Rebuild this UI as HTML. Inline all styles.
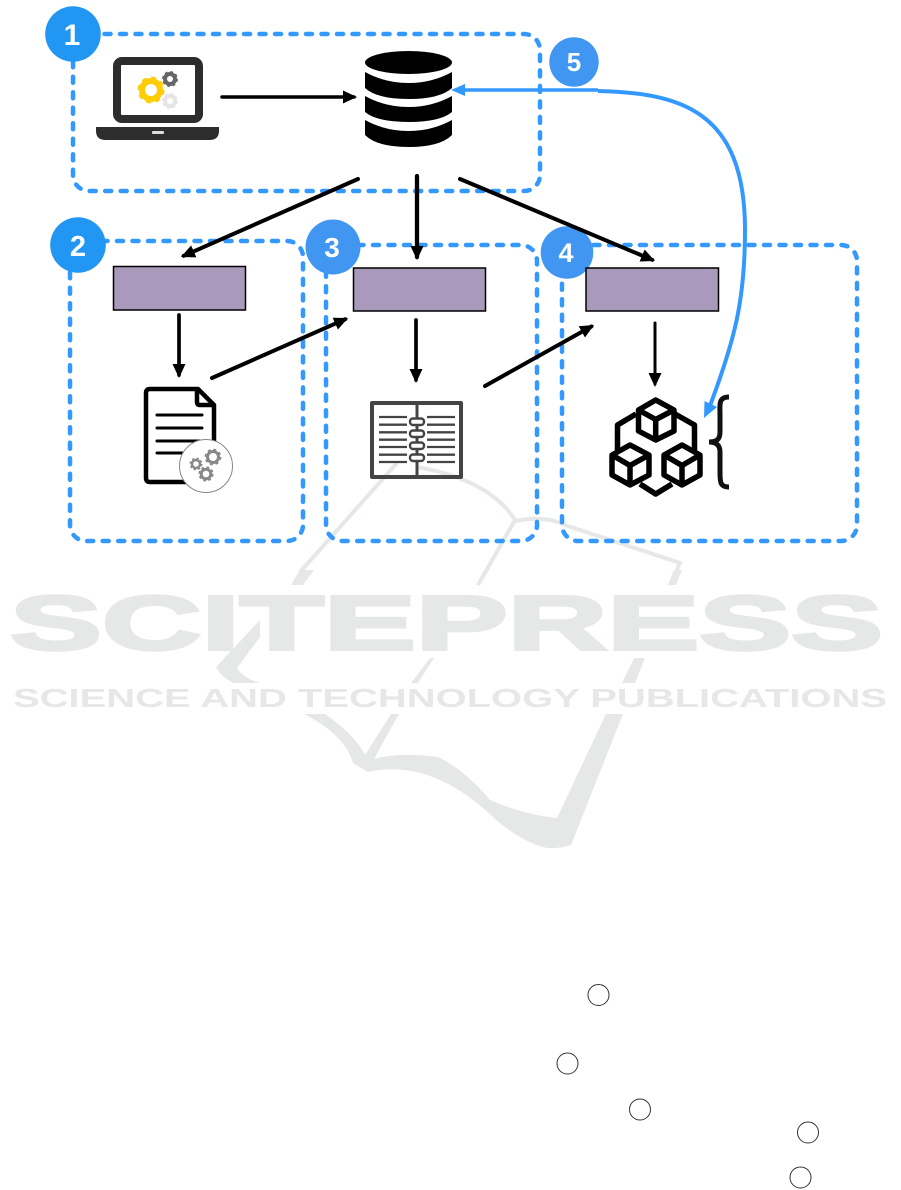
<!DOCTYPE html>
<html><head><meta charset="utf-8"><style>
html,body{margin:0;padding:0;background:#fff}
svg{display:block}
text{font-family:"Liberation Sans",sans-serif}
</style></head><body>
<svg width="901" height="1190" viewBox="0 0 901 1190" xmlns="http://www.w3.org/2000/svg">
<defs>
<marker id="a" markerUnits="userSpaceOnUse" markerWidth="16" markerHeight="16" refX="11" refY="7" orient="auto"><path d="M0 0.5L14 7L0 13.5z" fill="#000"/></marker>
</defs>
<!-- watermark -->
<g fill="#e6e7e7" stroke="#e6e7e7">
<text x="10" y="649.5" font-size="77" font-weight="700" stroke-width="3" textLength="873" lengthAdjust="spacingAndGlyphs">SCITEPRESS</text>
<text x="13" y="707" font-size="26" font-weight="700" stroke-width="0" textLength="874" lengthAdjust="spacingAndGlyphs">SCIENCE AND TECHNOLOGY PUBLICATIONS</text>
</g>
<g fill="#e6e7e7">
<path d="M304 714L325 714Q356 736 365 755L391 714L399 714L374 759Q400 752 438 757Q465 770 490 800Q525 815 557 818L606 714L623 714L571 845Q555 850 542 847Q520 840 496 820Q450 775 404 770Q385 768 368 772L353 763Q345 735 304 714z"/>
<path d="M260 620L216 667Q222 678 234 683L260 683Q243 678 237 668L260 637z"/>
<path d="M430 658L434 658L418 683L411 683z"/><path d="M634 658L645 658L635 683L622 683z"/><path d="M440 637L447 637L441 647z"/>
<path d="M291 585L303 585L314 570L300 570z"/><path d="M476 585L479 585L489 570L485 570z"/><path d="M668 585L676 585L682 570L674 570z"/>
</g>
<g fill="none" stroke="#e6e7e7" stroke-width="4">
<path d="M397 463L300 572"/>
<path d="M417 467Q490 480 515 520L478 585"/>
<path d="M515 521Q545 515 565 525L680 563L670 585"/>
</g>
<!-- dashed boxes -->
<g fill="none" stroke="#3399ff" stroke-width="4.5" stroke-linecap="round" stroke-dasharray="6 9.5">
<rect x="73" y="34" width="467" height="157" rx="16"/>
<rect x="70" y="241" width="233" height="300" rx="16"/>
<rect x="326" y="245" width="211" height="296" rx="16"/>
<rect x="562" y="245" width="295" height="296" rx="16"/>
</g>
<!-- badges -->
<circle cx="73" cy="34" r="27.8" fill="#2196f3"/>
<circle cx="78" cy="245" r="27.8" fill="#2196f3"/>
<circle cx="333" cy="247" r="27.5" fill="#4096f0"/>
<circle cx="567" cy="252.5" r="26.3" fill="#4096f0"/>
<circle cx="574" cy="62" r="24.7" fill="#4096f0"/>
<g fill="#fff" font-weight="700" text-anchor="middle">
<text x="72" y="45" font-size="30">1</text>
<text x="78" y="256" font-size="29">2</text>
<text x="332" y="257" font-size="28">3</text>
<text x="566" y="262" font-size="27">4</text>
<text x="574" y="71" font-size="26">5</text>
</g>
<!-- purple boxes -->
<g fill="#a99abc" stroke="#000" stroke-width="1.5">
<rect x="113.5" y="266.5" width="132" height="43.5"/>
<rect x="353.5" y="268" width="132" height="43"/>
<rect x="586" y="268" width="132.5" height="43"/>
</g>
<!-- laptop -->
<rect x="117" y="61" width="82" height="58" rx="5" fill="#fff" stroke="#2d2d2d" stroke-width="8"/>
<path d="M96 127H219V131Q219 140 209 140H106Q96 140 96 131z" fill="#2d2d2d"/>
<rect x="152" y="131" width="12" height="3" rx="1" fill="#ddd"/>
<g fill="none">
<circle cx="151" cy="90" r="9" stroke="#ffcc00" stroke-width="6"/>
<circle cx="151" cy="90" r="12" stroke="#ffcc00" stroke-width="3" stroke-dasharray="4.7 4.7"/>
<circle cx="170" cy="79" r="5" stroke="#666" stroke-width="4"/>
<circle cx="170" cy="79" r="7" stroke="#666" stroke-width="2" stroke-dasharray="2.75 2.75"/>
<circle cx="170" cy="101" r="5" stroke="#e5e5e5" stroke-width="4"/>
<circle cx="170" cy="101" r="7" stroke="#e5e5e5" stroke-width="2" stroke-dasharray="2.75 2.75"/>
</g>
<!-- database -->
<g fill="#000">
<ellipse cx="408.5" cy="62.5" rx="43.5" ry="11.5"/>
<path d="M365 72Q385 83 408.5 83Q432 83 452 72V88Q440 99 408.5 99Q377 99 365 88z"/>
<path d="M365 96Q385 107 408.5 107Q432 107 452 96V112Q440 122 408.5 122Q377 122 365 112z"/>
<path d="M365 120Q385 131 408.5 131Q432 131 452 120V135Q440 147 408.5 147Q377 147 365 135z"/>
</g>
<!-- arrows -->
<g stroke="#000" fill="none" stroke-linecap="round">
<path d="M222 97H354" stroke-width="3.5" marker-end="url(#a)"/>
<path d="M358 179L183.7 255.8" stroke-width="4" marker-end="url(#a)"/>
<path d="M417 176V257" stroke-width="4.3" marker-end="url(#a)"/>
<path d="M460 179L652.2 259.8" stroke-width="4" marker-end="url(#a)"/>
<path d="M179 315V375" stroke-width="3.7" marker-end="url(#a)"/>
<path d="M212 378L345.3 319.2" stroke-width="4" marker-end="url(#a)"/>
<path d="M416 320V380" stroke-width="3.7" marker-end="url(#a)"/>
<path d="M485 386L591.4 326.5" stroke-width="4" marker-end="url(#a)"/>
<path d="M655 323V384" stroke-width="3" marker-end="url(#a)"/>
</g>
<!-- document -->
<path d="M198 389H150Q146 389 146 393V478Q146 482 150 482H214V405z" fill="#fff" stroke="#000" stroke-width="4.5" stroke-linejoin="round"/>
<path d="M197 389V402Q197 405 200 405H214" fill="none" stroke="#000" stroke-width="4.5"/>
<g stroke="#000" stroke-width="3" stroke-linecap="round"><path d="M157 415H202M157 428H202M157 441H202M157 453H190"/></g>
<circle cx="206" cy="466" r="26.5" fill="#fff" stroke="#888" stroke-width="1"/>
<g fill="none" stroke="#888">
<circle cx="213" cy="457" r="5.5" stroke-width="3"/><circle cx="213" cy="457" r="7.6" stroke-width="1.6" stroke-dasharray="3 3"/>
<circle cx="206" cy="474" r="4.8" stroke-width="3"/><circle cx="206" cy="474" r="6.8" stroke-width="1.6" stroke-dasharray="2.7 2.7"/>
<circle cx="196" cy="464" r="4" stroke-width="2.5"/><circle cx="196" cy="464" r="5.8" stroke-width="1.4" stroke-dasharray="2.3 2.3"/>
</g>
<!-- book -->
<g fill="none" stroke="#444">
<path d="M417 403H372V477H417H461V403z" stroke-width="4" stroke-linejoin="round"/>
<path d="M417 403V477" stroke-width="3"/>
<path d="M379 417H407M379 424.7H407M379 432.3H407M379 439.7H407M379 447H407M379 454.7H407M379 462H407M427 417H455M427 424.7H455M427 432.3H455M427 439.7H455M427 447H455M427 454.7H455M427 462H455" stroke-width="2.3"/>
<g fill="#fff" stroke-width="2.4">
<rect x="410" y="418.5" width="14" height="6.5" rx="3"/><rect x="410" y="430.5" width="14" height="6.5" rx="3"/><rect x="410" y="442.5" width="14" height="6.5" rx="3"/><rect x="410" y="454.5" width="14" height="6.5" rx="3"/>
</g>
</g>
<!-- cubes -->
<g fill="none" stroke="#000" stroke-width="5.5" stroke-linejoin="round">
<path d="M655.7 400L674 410V431L655.7 440L638.5 431V410zM638.5 410L655.7 419.5L674 410M655.7 419.5V440"/>
<path d="M630 445L649 455V475L630 485L612 475V455zM612 455L630 465.5L649 455M630 465.5V485"/>
<path d="M682 445L700 455V475L682 485L664 475V455zM664 455L682 465.5L700 455M682 465.5V485"/>
<path d="M636 414L617.5 425V450M675 414L694.5 425V450M640 484L655.7 494L672 484"/>
</g>
<!-- brace -->
<path d="M729 397C718 397 720 405 720 415V432C720 440 716 442 709 442C716 442 720 445 720 452V472C720 482 720 487 729 487" fill="none" stroke="#111" stroke-width="5"/>
<!-- blue connector -->
<path d="M598 91C680 93 745 110 745 230C745 300 735 340 708 411" fill="none" stroke="#3399ff" stroke-width="4"/>
<path d="M598 90L460 90" fill="none" stroke="#3399ff" stroke-width="3.5"/>
<path d="M451 90L465 84V96z" fill="#3399ff"/>
<path d="M704 418L704.5 401L717 407z" fill="#3399ff"/>
<!-- small circles -->
<g fill="#fff" stroke="#333" stroke-width="1">
<circle cx="598.5" cy="995" r="10.5"/><circle cx="567.5" cy="1063.5" r="10.5"/><circle cx="640" cy="1109.5" r="10.5"/><circle cx="808" cy="1132.5" r="10.5"/><circle cx="800.5" cy="1177.5" r="10.5"/>
</g>
</svg>
</body></html>
